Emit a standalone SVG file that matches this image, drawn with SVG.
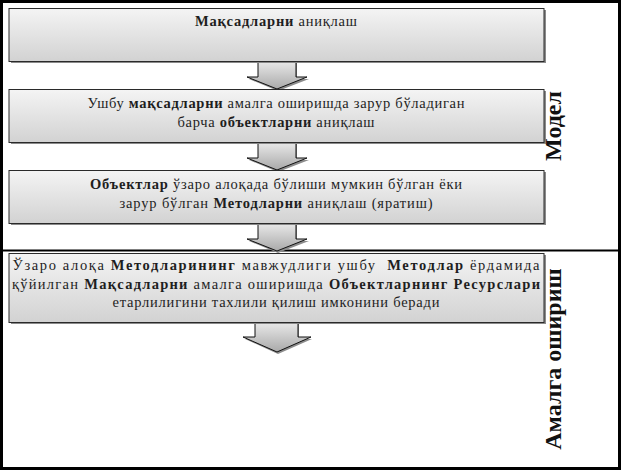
<svg xmlns="http://www.w3.org/2000/svg" width="623" height="471" viewBox="0 0 623 471">
<defs>
<linearGradient id="gBox" x1="0" y1="0" x2="0" y2="1">
<stop offset="0" stop-color="#f4f4f4"/>
<stop offset="1" stop-color="#d2d2d2"/>
</linearGradient>
<linearGradient id="gArr" x1="0" y1="0" x2="0" y2="1">
<stop offset="0" stop-color="#ececec"/>
<stop offset="1" stop-color="#a9a9a9"/>
</linearGradient>
</defs>
<style>
.frame{fill:none;stroke:#000;stroke-width:3}
.div{stroke:#000;stroke-width:2}
.box{fill:url(#gBox);stroke:#2a2a2a;stroke-width:1}
.shadow{fill:#8a8a8a}
.arr{fill:url(#gArr);stroke:#111;stroke-width:1}
.arrsh{fill:#8c8c8c}
.t{font-family:"Liberation Serif","Times New Roman",serif;font-size:14.5px;fill:#1e1e1e;text-anchor:middle}
.b{font-weight:bold}
.side{font-family:"Liberation Serif","Times New Roman",serif;font-size:24px;font-weight:bold;fill:#111;text-anchor:middle}
</style>
<rect width="623" height="471" fill="#fff"/>
<rect class="frame" x="1.5" y="1.5" width="618" height="467"/>
<line class="div" x1="0" y1="250.5" x2="621" y2="250.5"/>

<g id="connectors">
<polygon class="arrsh" points="259,62 297,62 297,79 309,79 278,91 249,79 259,79"/>
<polygon class="arr" points="258,60 296,60 296,77 307,77 277,89 247,77 258,77"/>
<polygon class="arrsh" points="259,143 297,143 297,160 309,160 278,172 249,160 259,160"/>
<polygon class="arr" points="258,141 296,141 296,158 307,158 277,170 247,158 258,158"/>
<polygon class="arrsh" points="259,224 297,224 297,241 309,241 278,253 249,241 259,241"/>
<polygon class="arr" points="258,222 296,222 296,239 307,239 277,251 247,239 258,239"/>
<polygon class="arrsh" points="256,323 299,323 299,339 312,339 278,354 245,339 256,339"/>
<polygon class="arr" points="255,321 298,321 298,337 311,337 277,352 243,337 255,337"/>
</g>

<g id="node1">
<rect class="shadow" x="11" y="10" width="535" height="53"/>
<rect class="box" x="9" y="8.5" width="535" height="53"/>
<text class="t" x="276" y="26" textLength="162" lengthAdjust="spacing"><tspan class="b">Мақсадларни</tspan> аниқлаш</text>
</g>

<g id="node2">
<rect class="shadow" x="11" y="91" width="535" height="53"/>
<rect class="box" x="9" y="89.5" width="535" height="53"/>
<text class="t" x="276" y="108" textLength="377" lengthAdjust="spacing">Ушбу <tspan class="b">мақсадларни</tspan> амалга оширишда зарур бўладиган</text>
<text class="t" x="276" y="127" textLength="197" lengthAdjust="spacing">барча <tspan class="b">объектларни</tspan> аниқлаш</text>
</g>

<g id="node3">
<rect class="shadow" x="11" y="172" width="535" height="53"/>
<rect class="box" x="9" y="170.5" width="535" height="53"/>
<text class="t" x="276" y="189" textLength="372" lengthAdjust="spacing"><tspan class="b">Объектлар</tspan> ўзаро алоқада бўлиши мумкин бўлган ёки</text>
<text class="t" x="276" y="208" textLength="313" lengthAdjust="spacing">зарур бўлган <tspan class="b">Методларни</tspan> аниқлаш (яратиш)</text>
</g>

<g id="node4">
<rect class="shadow" x="11" y="255" width="535" height="69"/>
<rect class="box" x="9" y="253.5" width="535" height="69"/>
<text class="t" x="276" y="270" textLength="527" lengthAdjust="spacing" style="white-space:pre">Ўзаро алоқа <tspan class="b">Методларининг</tspan> мавжудлиги ушбу  <tspan class="b">Методлар</tspan> ёрдамида</text>
<text class="t" x="276" y="289" textLength="528" lengthAdjust="spacing">қўйилган <tspan class="b">Мақсадларни</tspan> амалга оширишда <tspan class="b">Объектларнинг Ресурслари</tspan></text>
<text class="t" x="276" y="307" textLength="327" lengthAdjust="spacing">етарлилигини тахлили қилиш имконини беради</text>
</g>

<g id="label-model">
<text class="side" transform="translate(561,126) rotate(-90)">Модел</text>
</g>
<g id="label-amalga">
<text class="side" transform="translate(561,359) rotate(-90)">Амалга ошириш</text>
</g>
</svg>
